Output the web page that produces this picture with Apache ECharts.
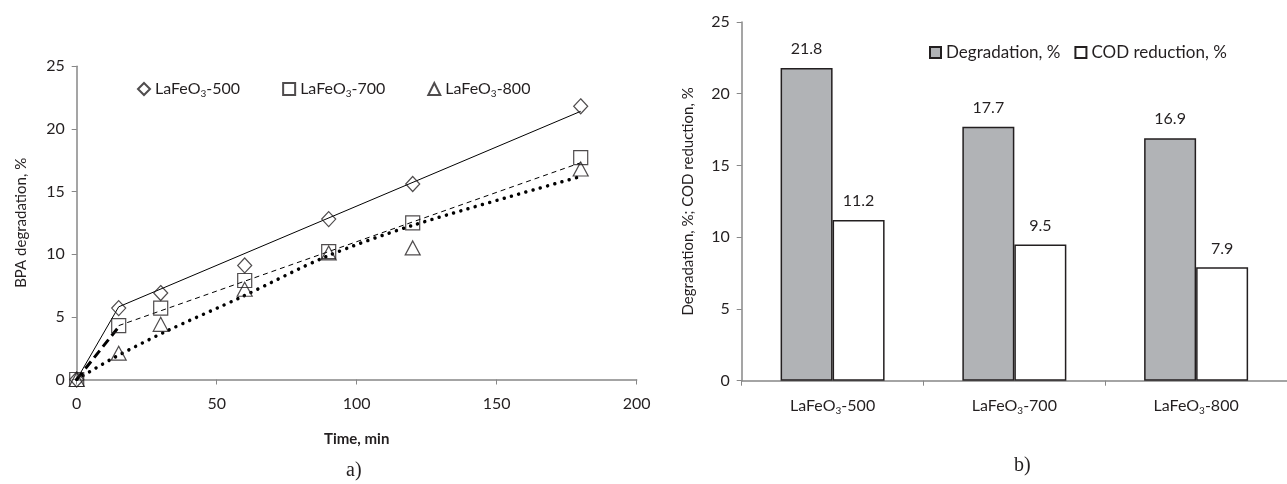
<!DOCTYPE html>
<html><head><meta charset="utf-8">
<script src="https://cdn.jsdelivr.net/npm/echarts@6/dist/echarts.min.js"></script>
<style>html,body{margin:0;padding:0;background:#fff}#c{width:1287px;height:484px}</style>
</head><body><div id="c"></div>
<script>
// ---- Data (a): BPA degradation vs time ----
const seriesNamesA = ['LaFeO3-500', 'LaFeO3-700', 'LaFeO3-800'];
const pts500 = [[0,0],[15,5.7],[30,6.9],[60,9.1],[90,12.8],[120,15.6],[180,21.8]];
const pts700 = [[0,0],[15,4.3],[30,5.7],[60,7.9],[90,10.2],[120,12.5],[180,17.7]];
const pts800 = [[0,0],[15,2.1],[30,4.4],[60,7.2],[90,10.1],[120,10.5],[180,16.8]];
// trend lines
const fit500 = [[0,0],[15,5.8],[180,21.4]];
const fit700a = [[0,0],[15,4.2]];
const fit700b = [[15,4.3],[180,17.3]];
const fit800 = [[0,0],[13,1.7],[32,3.85],[59,6.6],[89,9.8],[120,12.3],[180,16.2]];
const xTicksA = [0, 50, 100, 150, 200];
const yTicksA = [0, 5, 10, 15, 20, 25];

// ---- Data (b): bars ----
const categoriesB = ['LaFeO3-500', 'LaFeO3-700', 'LaFeO3-800'];
const degradation = [21.8, 17.7, 16.9];
const codReduction = [11.2, 9.5, 7.9];
const seriesNamesB = ['Degradation, %', 'COD reduction, %'];

const FONT = 'Lato';
const TXT = '#231f20';
const AX = '#878787';
const subFmt = n => n.replace('O3', 'O{s|3}');
const richSub = { s: { fontSize: 10, fontFamily: FONT, color: TXT, padding: [9, 0, 0, 0] } };

const chart = echarts.init(document.getElementById('c'), null, { renderer: 'canvas' });
const hollow = { color: 'rgba(0,0,0,0)', borderColor: TXT, borderWidth: 1.2 };

chart.setOption({
  animation: false,
  textStyle: { fontFamily: FONT, color: TXT },
  grid: [
    { left: 76.7, right: 650.3, top: 66.2, bottom: 104.5 },
    { left: 741.7, width: 552.9, top: 22, bottom: 103.3 }
  ],
  legend: [
    {
      data: seriesNamesA, left: 132, top: 76, itemWidth: 12, itemHeight: 12, itemGap: 42,
      formatter: subFmt,
      textStyle: { fontSize: 16, fontFamily: FONT, color: TXT, rich: richSub }
    },
    {
      data: seriesNamesB, left: 924, top: 39, itemWidth: 11, itemHeight: 11, itemGap: 14,
      icon: 'rect',
      textStyle: { fontSize: 17, fontFamily: FONT, color: TXT }
    }
  ],
  xAxis: [
    {
      gridIndex: 0, type: 'value', min: xTicksA[0], max: xTicksA[xTicksA.length - 1], interval: 50,
      name: 'Time, min', nameLocation: 'middle', nameGap: 52,
      nameTextStyle: { fontSize: 15, fontWeight: 'bold', color: TXT, fontFamily: FONT },
      axisLine: { show: true, onZero: false, lineStyle: { color: AX, width: 1.5 } },
      axisTick: { show: true, length: 5, lineStyle: { color: AX } },
      axisLabel: { fontSize: 16, color: TXT, margin: 16 },
      splitLine: { show: false }
    },
    {
      gridIndex: 1, type: 'category', data: categoriesB,
      axisLine: { show: true, lineStyle: { color: AX, width: 1.5 } },
      axisTick: { show: true, length: 5, lineStyle: { color: AX } },
      axisLabel: { fontSize: 16, color: TXT, margin: 16, formatter: subFmt, rich: richSub },
      splitLine: { show: false }
    }
  ],
  yAxis: [
    {
      gridIndex: 0, type: 'value', min: yTicksA[0], max: yTicksA[yTicksA.length - 1], interval: 5,
      name: 'BPA degradation, %', nameLocation: 'middle', nameGap: 48,
      nameTextStyle: { fontSize: 15, color: TXT, fontFamily: FONT },
      axisLine: { show: true, lineStyle: { color: AX, width: 1.5 } },
      axisTick: { show: true, length: 5, lineStyle: { color: AX } },
      axisLabel: { fontSize: 16, color: TXT, margin: 12 },
      splitLine: { show: false }
    },
    {
      gridIndex: 1, type: 'value', min: 0, max: 25, interval: 5,
      name: 'Degradation, %; COD reduction, %', nameLocation: 'middle', nameGap: 46,
      nameTextStyle: { fontSize: 15, color: TXT, fontFamily: FONT },
      axisLine: { show: true, lineStyle: { color: AX, width: 1.5 } },
      axisTick: { show: true, length: 5, lineStyle: { color: AX } },
      axisLabel: { fontSize: 16, color: TXT, margin: 12 },
      splitLine: { show: false }
    }
  ],
  series: [
    { type: 'line', xAxisIndex: 0, yAxisIndex: 0, data: fit500, symbol: 'none', silent: true,
      lineStyle: { color: '#000', width: 1 }, z: 1 },
    { type: 'line', xAxisIndex: 0, yAxisIndex: 0, data: fit700a, symbol: 'none', silent: true,
      lineStyle: { color: '#000', width: 3, type: [9, 5] }, z: 1 },
    { type: 'line', xAxisIndex: 0, yAxisIndex: 0, data: fit700b, symbol: 'none', silent: true,
      lineStyle: { color: '#000', width: 1, type: [5, 4] }, z: 1 },
    { type: 'line', xAxisIndex: 0, yAxisIndex: 0, data: fit800, symbol: 'none', silent: true, smooth: 0.3,
      lineStyle: { color: '#000', width: 3.5, type: [0.01, 7.5], cap: 'round' }, z: 1 },
    { name: seriesNamesA[0], type: 'scatter', xAxisIndex: 0, yAxisIndex: 0, data: pts500,
      symbol: 'diamond', symbolSize: [14, 15], itemStyle: hollow, z: 3 },
    { name: seriesNamesA[1], type: 'scatter', xAxisIndex: 0, yAxisIndex: 0, data: pts700,
      symbol: 'rect', symbolSize: 14, itemStyle: hollow, z: 3 },
    { name: seriesNamesA[2], type: 'scatter', xAxisIndex: 0, yAxisIndex: 0, data: pts800,
      symbol: 'triangle', symbolSize: [15, 14], itemStyle: hollow, z: 3 },
    { name: seriesNamesB[0], type: 'bar', xAxisIndex: 1, yAxisIndex: 1, data: degradation,
      barWidth: 52, barGap: '0%',
      itemStyle: { color: '#b1b3b6', borderColor: TXT, borderWidth: 1.5 },
      label: { show: true, position: 'top', distance: 11, fontSize: 16, color: TXT } },
    { name: seriesNamesB[1], type: 'bar', xAxisIndex: 1, yAxisIndex: 1, data: codReduction,
      barWidth: 52, barGap: '0%',
      itemStyle: { color: '#ffffff', borderColor: TXT, borderWidth: 1.5 },
      label: { show: true, position: 'top', distance: 11, fontSize: 16, color: TXT } }
  ],
  graphic: [
    { type: 'text', left: 346, top: 461, style: { text: 'a)', fontFamily: 'Liberation Serif', fontSize: 20, fill: TXT } },
    { type: 'text', left: 1014, top: 456, style: { text: 'b)', fontFamily: 'Liberation Serif', fontSize: 20, fill: TXT } }
  ]
});
</script></body></html>
